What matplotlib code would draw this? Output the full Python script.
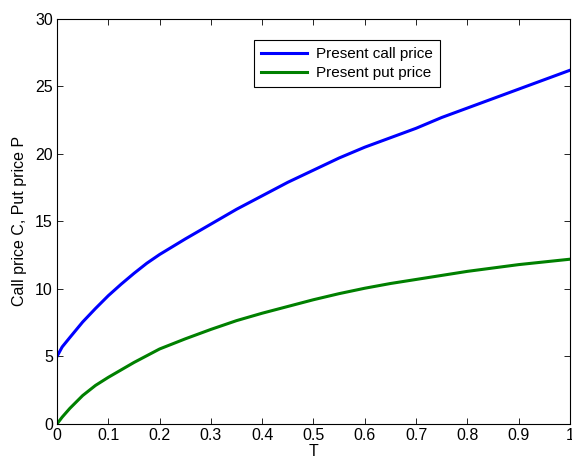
import matplotlib
matplotlib.use("Agg")
import matplotlib.pyplot as plt

# maturity T and read-off prices
T = [0, 0.01, 0.025, 0.05, 0.075, 0.1, 0.125, 0.15, 0.175, 0.2, 0.25, 0.3, 0.35,
     0.4, 0.45, 0.5, 0.55, 0.6, 0.65, 0.7, 0.75, 0.8, 0.85, 0.9, 0.95, 1.0]
call_price = [5.0, 5.7, 6.4, 7.55, 8.55, 9.5, 10.35, 11.15, 11.9, 12.55, 13.7, 14.8, 15.9,
              16.9, 17.9, 18.8, 19.7, 20.5, 21.2, 21.9, 22.7, 23.4, 24.1, 24.8, 25.5, 26.2]
put_price = [0.0, 0.5, 1.15, 2.1, 2.85, 3.45, 4.0, 4.55, 5.05, 5.55, 6.3, 7.0, 7.65,
             8.2, 8.7, 9.2, 9.65, 10.05, 10.4, 10.7, 11.0, 11.3, 11.55, 11.8, 12.0, 12.2]

xticks = [0, 0.1, 0.2, 0.3, 0.4, 0.5, 0.6, 0.7, 0.8, 0.9, 1]
xticklabels = ["0", "0.1", "0.2", "0.3", "0.4", "0.5", "0.6", "0.7", "0.8", "0.9", "1"]
yticks = [0, 5, 10, 15, 20, 25, 30]

plt.rcParams['font.family'] = ['Liberation Sans', 'DejaVu Sans']
plt.rcParams['font.size'] = 11.5

fig = plt.figure(figsize=(5.72, 4.59), dpi=100)
ax = fig.add_axes([0.0997, 0.0765, 0.8967, 0.8822])

ax.plot(T, call_price, color=(0, 0, 1), linewidth=2.2, label="Present call price")
ax.plot(T, put_price, color=(0, 0.5, 0), linewidth=2.2, label="Present put price")

ax.set_xlim(0, 1)
ax.set_ylim(0, 30)
ax.set_xticks(xticks)
ax.set_xticklabels(xticklabels)
ax.set_yticks(yticks)
ax.tick_params(direction='in', top=True, right=True, length=4, width=0.6, pad=3)
for s in ax.spines.values():
    s.set_linewidth(0.8)

ax.set_xlabel("T", labelpad=1)
ax.set_ylabel("Call price C, Put price P", labelpad=6)

leg = ax.legend(loc='upper left', bbox_to_anchor=(0.384, 0.948), borderaxespad=0,
                fancybox=False, edgecolor='black', framealpha=1, fontsize=11,
                handlelength=3.0, borderpad=0.45, labelspacing=0.35, handletextpad=0.6)
leg.get_frame().set_linewidth(0.8)

fig.savefig("out.png", dpi=100)
plt.close(fig)
